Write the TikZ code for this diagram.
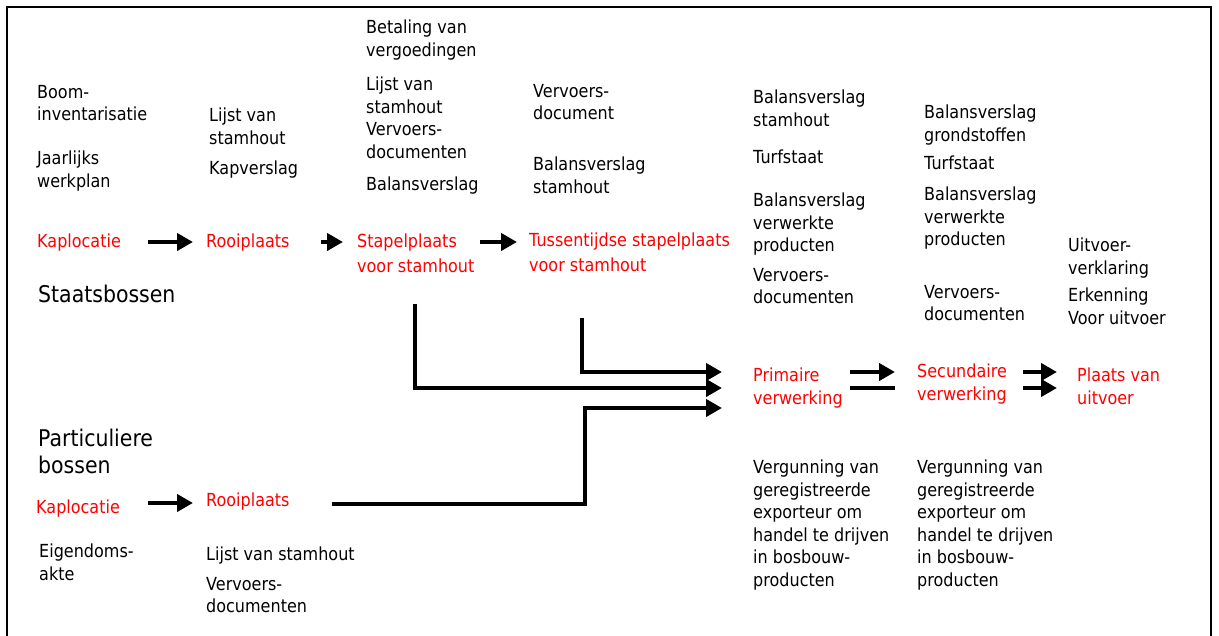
\documentclass[tikz,border=0pt]{standalone}
\usepackage{fontspec}
\setmainfont{DejaVu Sans}[FakeStretch=0.89]
\usetikzlibrary{arrows.meta,calc}
\newcommand\nsz{\fontsize{18}{22.5}\selectfont}
\newcommand\rsz{\fontsize{18}{24.5}\selectfont}
\newcommand\bsz{\fontsize{23}{27}\selectfont}
\definecolor{locred}{RGB}{255,0,0}
\begin{document}
\begin{tikzpicture}[x=1pt,y=-1pt,
  txt/.style={anchor=north west,inner sep=0pt,align=left,font=\nsz},
  loc/.style={txt,text=locred},
  locw/.style={loc,font=\rsz},
  big/.style={txt,font=\bsz},
  flow/.style={line width=4pt,line join=miter,-{Triangle[length=16pt,width=17pt]}},
  bar/.style={line width=4pt}]
\useasboundingbox (0,0) rectangle (1219,635);
\draw[line width=2pt] (7,640) -- (7,7) -- (1211,7) -- (1211,640);

% Staatsbossen row
\node[txt] (boom) at (37,85) {Boom-\\inventarisatie};
\node[txt] (werk) at (37,151) {Jaarlijks\\werkplan};
\node[loc] (kap1) at (37,234) {Kaplocatie};
\node[big] (staat) at (38,285) {Staatsbossen};
\node[txt] (lijst1) at (209,108) {Lijst van\\stamhout};
\node[txt] (kapv) at (209,161) {Kapverslag};
\node[loc] (rooi1) at (206,234) {Rooiplaats};
\node[txt] (bet) at (366,20) {Betaling van\\vergoedingen};
\node[txt] (lijst2) at (366,77) {Lijst van\\stamhout\\Vervoers-\\documenten};
\node[txt] (bal1) at (366,177) {Balansverslag};
\node[locw] (stap) at (357,234) {Stapelplaats\\voor stamhout};
\node[txt] (verv1) at (533,84) {Vervoers-\\document};
\node[txt] (bal2) at (533,157) {Balansverslag\\stamhout};
\node[locw] (tuss) at (529,233) {Tussentijdse stapelplaats\\voor stamhout};

\node[txt] (bal3) at (753,90) {Balansverslag\\stamhout};
\node[txt] (turf1) at (753,150) {Turfstaat};
\node[txt] (bal4) at (753,193) {Balansverslag\\verwerkte\\producten};
\node[txt] (verv2) at (753,268) {Vervoers-\\documenten};
\node[txt] (bal5) at (924,105) {Balansverslag\\grondstoffen};
\node[txt] (turf2) at (924,156) {Turfstaat};
\node[txt] (bal6) at (924,187) {Balansverslag\\verwerkte\\producten};
\node[txt] (verv3) at (924,285) {Vervoers-\\documenten};
\node[txt] (uitv) at (1068,238) {Uitvoer-\\verklaring};
\node[txt] (erk) at (1068,288) {Erkenning\\Voor uitvoer};

\node[loc] (prim) at (753,368) {Primaire\\verwerking};
\node[loc] (sec) at (917,364) {Secundaire\\verwerking};
\node[loc] (plaats) at (1077,368) {Plaats van\\uitvoer};
\node[txt] (verg1) at (753,460) {Vergunning van\\geregistreerde\\exporteur om\\handel te drijven\\in bosbouw-\\producten};
\node[txt] (verg2) at (917,460) {Vergunning van\\geregistreerde\\exporteur om\\handel te drijven\\in bosbouw-\\producten};

% Particuliere bossen row
\node[big] (part) at (38,429) {Particuliere\\bossen};
\node[loc] (kap2) at (36,500) {Kaplocatie};
\node[loc] (rooi2) at (206,493) {Rooiplaats};
\node[txt] (eig) at (39,544) {Eigendoms-\\akte};
\node[txt] (lijst3) at (206,547) {Lijst van stamhout};
\node[txt] (verv4) at (206,577) {Vervoers-\\documenten};

% arrows
\draw[flow] ($(kap1.north west)+(111,8)$) -- ($(rooi1.north west)+(-13,8)$);
\draw[flow] ($(rooi1.north west)+(115,8)$) -- ($(stap.north west)+(-14,8)$);
\draw[flow] ($(stap.north west)+(123,8)$) -- ($(tuss.north west)+(-12,9)$);
\draw[flow] ($(kap2.north west)+(112,3)$) -- ($(rooi2.north west)+(-13,10)$);

\coordinate (s1) at ($(stap.north west)+(58,70)$);
\coordinate (s2) at ($(tuss.north west)+(53,85)$);
\draw[flow] (s2) |- ($(prim.north west)+(-31,4)$);
\draw[flow] (s1) |- ($(prim.north west)+(-31,20)$);
\draw[flow] ($(rooi2.north west)+(126,11)$) -| ($(prim.north west)+(-168,40)$) -- ($(prim.north west)+(-31,40)$);

\draw[flow] ($(prim.north west)+(97,4)$) -- ($(sec.north west)+(-22,8)$);
\draw[bar] ($(prim.north west)+(97,20)$) -- ($(sec.north west)+(-22,24)$);
\draw[flow] ($(sec.north west)+(106,8)$) -- ($(plaats.north west)+(-20,4)$);
\draw[flow] ($(sec.north west)+(106,24)$) -- ($(plaats.north west)+(-20,20)$);
\end{tikzpicture}
\end{document}
